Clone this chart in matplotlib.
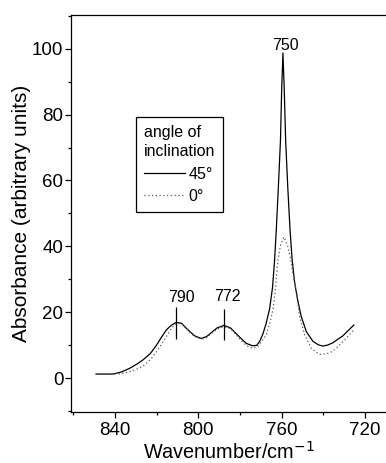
import matplotlib.pyplot as plt
from matplotlib.ticker import MultipleLocator

plt.rcParams['font.family'] = ['Liberation Sans', 'DejaVu Sans']

# spectrum at 45 deg inclination (solid)
wn_45 = [849, 841, 837, 833, 829.5, 826.5, 823, 820, 817.5, 815.3, 813, 810.5,
         808, 805.7, 803.5, 801.7, 798.5, 796, 793.7, 791, 787.7, 784.5, 781.7,
         779, 776.9, 774, 772, 770.5, 769, 767.5, 765.8, 764.4, 763.4, 762.6,
         761.6, 760.6, 760.0, 759.4, 758.8, 758.1, 757.1, 756.0, 755.0, 753.8,
         752.3, 750.6, 748.2, 745.1, 742.5, 740.3, 738, 735.5, 730.7, 725.4]
abs_45 = [1.2, 1.2, 1.8, 2.9, 4.2, 5.5, 7.4, 10.0, 12.5, 14.6, 16.0, 16.9,
          16.6, 15.1, 13.8, 12.8, 12.0, 12.6, 13.8, 15.2, 16.0, 15.2, 13.4,
          11.7, 10.5, 9.8, 9.9, 11.2, 13.4, 16.5, 21.0, 27.5, 35.9, 45,
          58, 72, 88, 98.7, 88, 72, 58, 45, 35.9, 29,
          23.5, 18.6, 14.1, 11.2, 10.1, 9.7, 10.0, 10.7, 12.8, 16.1]

# spectrum at 0 deg inclination (dotted)
wn_0 = [849, 841, 837, 833, 829.5, 826.5, 823, 820, 817.5, 815.3, 813, 810.5,
        808, 805.7, 803.5, 801.7, 798.5, 796, 793.7, 791, 787.7, 784.5, 781.7,
        778.6, 776, 773.8, 771.5, 769.5, 767.4, 765.8, 764.2, 763, 761.8,
        760.5, 758.9, 757.3, 755.6, 754.7, 752.8, 751.4, 749, 745.8, 741.9,
        738.7, 736, 733.9, 729.5, 725.4]
abs_0 = [1.2, 1.2, 1.3, 1.9, 2.7, 3.6, 5.5, 8.0, 10.4, 12.6, 15.0, 16.7,
         16.5, 15.0, 13.6, 12.6, 11.8, 12.3, 13.5, 14.8, 15.6, 15.0, 13.0,
         10.8, 9.5, 9.0, 9.6, 11.2, 13.1, 16.5, 20.7, 27, 35.9,
         40.5, 42.8, 40.5, 35.9, 32, 25.7, 18.6, 13.1, 9.0, 7.2,
         7.3, 8.0, 9.0, 11.8, 14.6]

# peak labels
peak_labels = ['790', '772', '750']
peak_text_x = [808.1, 785.9, 758.1]
peak_text_y = [23.2, 23.5, 99.7]
marker_x = [810.5, 787.7]
marker_lo = [12.0, 11.5]
marker_hi = [21.7, 21.0]

fig = plt.figure(figsize=(3.86, 4.63), dpi=100)
ax = fig.add_axes([0.184, 0.111, 0.816, 0.857])

l45, = ax.plot(wn_45, abs_45, color='black', lw=0.9, label='45°')
l0, = ax.plot(wn_0, abs_0, color='0.35', lw=0.9, linestyle=(0, (1, 2)), label='0°')

for lab, tx, ty in zip(peak_labels, peak_text_x, peak_text_y):
    ax.text(tx, ty, lab, ha='center', va='baseline', fontsize=11.5)
ax.vlines(marker_x, marker_lo, marker_hi, color='black', lw=0.9)

ax.set_xlim(861, 710)
ax.set_ylim(-10.2, 110.3)
ax.xaxis.set_major_locator(MultipleLocator(40))
ax.xaxis.set_minor_locator(MultipleLocator(20))
ax.yaxis.set_major_locator(MultipleLocator(20))
ax.yaxis.set_minor_locator(MultipleLocator(10))
ax.tick_params(which='major', direction='out', length=4.5, width=0.9, labelsize=13.5)
ax.tick_params(which='minor', direction='out', length=2.5, width=0.9)
ax.tick_params(axis='y', pad=1)
ax.tick_params(axis='x', pad=3)
ax.spines['right'].set_visible(False)
for s in ['left', 'bottom', 'top']:
    ax.spines[s].set_linewidth(0.9)

ax.set_xlabel('Wavenumber/cm$^{-1}$', fontsize=14.3, labelpad=1)
ax.set_ylabel('Absorbance (arbitrary units)', fontsize=15, labelpad=1)

leg = ax.legend(handles=[l45, l0], title='angle of\ninclination',
                loc='upper left', bbox_to_anchor=(0.206, 0.742), borderaxespad=0,
                fancybox=False, edgecolor='black', framealpha=1,
                fontsize=11.5, title_fontsize=11.5, handlelength=2.6,
                handletextpad=0.2, borderpad=0.5, labelspacing=0.45,
                alignment='left')
leg.get_title().set_linespacing(1.35)
leg.get_frame().set_linewidth(0.9)

fig.savefig('out.png', dpi=100)
